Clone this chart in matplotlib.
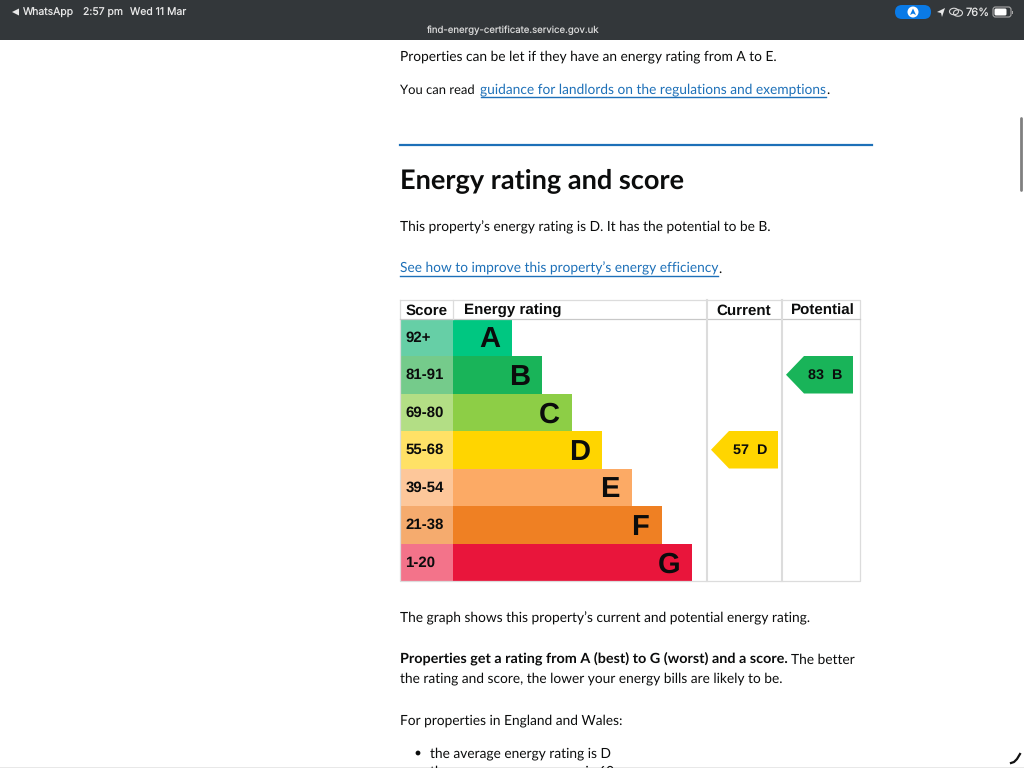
import matplotlib
matplotlib.use('Agg')
import matplotlib.pyplot as plt
from matplotlib.patches import Rectangle, Polygon, FancyBboxPatch, Ellipse, Circle

plt.rcParams['text.hinting'] = 'no_hinting'

# Chart values
scores = ['92+', '81-91', '69-80', '55-68', '39-54', '21-38', '1-20']
bands = ['A', 'B', 'C', 'D', 'E', 'F', 'G']
band_lengths = [59, 89, 119, 149, 179, 209, 239]
band_colors = ['#00c781', '#19b459', '#8dce46', '#ffd500', '#fcaa65', '#ef8023', '#e9153b']
score_colors = ['#66cfa6', '#75cb8b', '#b3de85', '#ffe166', '#fdc79a', '#f5ab6e', '#f3738a']
current_value, current_band = 57, 'D'
potential_value, potential_band = 83, 'B'

BODY = 'Lato'
CHART = 'Liberation Sans'
INK = '#0b0c0c'
LINK = '#1d70b8'
GRID = '#dcdcdc'

fig = plt.figure(figsize=(10.24, 7.68), dpi=100, facecolor='white')
ax = fig.add_axes([0, 0, 1, 1])
ax.set_xlim(0, 1024)
ax.set_ylim(768, 0)
ax.axis('off')


def body(x, y, s, size=9.95, weight='normal', color=INK, **kw):
    return ax.text(x, y + 4.5, s, fontsize=size, fontweight=weight, color=color,
                   family=BODY, va='baseline', ha='left', **kw)


def text_width(t):
    return t.get_window_extent(fig.canvas.get_renderer()).width


def link(x, y, s):
    t = body(x, y, s, color=LINK)
    w = text_width(t)
    ax.plot([x, x + w], [y + 7.5, y + 7.5], color=LINK, lw=1)
    return w


# browser bar
ax.add_patch(Rectangle((0, 0), 1024, 40, color='#33373a', lw=0))
ax.add_patch(Polygon([[12, 12], [19, 8.5], [19, 15.5]], color='#e8e8e8', lw=0))
for x, s in [(23, 'WhatsApp'), (83, '2:57 pm'), (130, 'Wed 11 Mar')]:
    ax.text(x, 16, s, color='#e8e8e8', fontsize=7.5, family='Inter', va='baseline')
ax.text(512, 33, 'find-energy-certificate.service.gov.uk', color='#d8d8d8',
        fontsize=6.9, family='Inter', va='baseline', ha='center')
ax.add_patch(FancyBboxPatch((895, 5), 36, 14, boxstyle='round,pad=0,rounding_size=7',
                            color='#0a7ae6', lw=0))
ax.add_patch(Circle((913, 12), 5.5, color='white', lw=0))
ax.add_patch(Polygon([[913, 8.5], [916, 15], [913, 13.5], [910, 15]], color='#0a7ae6', lw=0))
ax.add_patch(Polygon([[945, 8], [937, 12], [941, 13], [942, 17]], color='#e8e8e8', lw=0))
ax.add_patch(Ellipse((954, 11.5), 9, 6.5, fill=False, ec='#d8d8d8', lw=0.8))
ax.add_patch(Ellipse((958, 13), 9, 6.5, fill=False, ec='#d8d8d8', lw=0.8))
ax.text(966, 16, '76%', color='#e8e8e8', fontsize=8, family='Inter', va='baseline')
ax.add_patch(FancyBboxPatch((993, 7), 18, 10, boxstyle='round,pad=0,rounding_size=2.5',
                            fc='none', ec='#a8a8a8', lw=0.8))
ax.add_patch(FancyBboxPatch((994.5, 8.5), 12, 7, boxstyle='round,pad=0,rounding_size=1.5',
                            color='white', lw=0))
ax.add_patch(Rectangle((1012, 10.5), 1, 3, color='#a8a8a8', lw=0))

# page text above the chart
body(400, 56, 'Properties can be let if they have an energy rating from A to E.')
body(400, 89, 'You can read', size=9.4)
w2 = link(480.5, 89, 'guidance for landlords on the regulations and exemptions')
body(480.5 + w2, 89, '.')
ax.plot([400, 872], [144.5, 144.5], color=LINK, lw=1.6)
body(400, 183.5, 'Energy rating and score', size=19.5, weight='bold')
body(400, 227, 'This property’s energy rating is D. It has the potential to be B.')
w3 = link(400, 268, 'See how to improve this property’s energy efficiency')
body(400 + w3, 268, '.')

# chart frame
top, head, row_h = 300, 318.5, 37.5
bottom = head + row_h * len(bands)
left, score_right, cur_left, pot_left, right = 400, 453, 707, 782, 860
ax.plot([left, right, right, left, left], [top, top, bottom, bottom, top], color=GRID, lw=0.9)
ax.plot([left, right], [head, head], color='#c8c8c8', lw=0.9)
ax.plot([score_right, score_right], [top, head], color=GRID, lw=0.9)
ax.plot([cur_left, cur_left], [top, bottom], color=GRID, lw=1.5)
ax.plot([pot_left, pot_left], [top, bottom], color=GRID, lw=1.5)

for x, s, ha in [(426.5, 'Score', 'center'), (463.5, 'Energy rating', 'left'),
                 (744, 'Current', 'center'), (823, 'Potential', 'center')]:
    ax.text(x, 315, s, fontsize=10.9, fontweight='bold', family=CHART, color=INK,
            ha=ha, va='baseline')

row_y = [head + row_h * i for i in range(len(bands))]
ax.barh(row_y, [score_right - left] * len(scores), left=left, height=row_h, align='edge',
        color=score_colors, lw=0)
ax.barh(row_y, band_lengths, left=score_right, height=row_h, align='edge',
        color=band_colors, lw=0)
for y, score, band, length in zip(row_y, scores, bands, band_lengths):
    ax.text(405.5, y + row_h / 2 + 4.5, score, fontsize=10.8, fontweight='bold', family=CHART,
            color=INK, va='baseline')
    ax.text(score_right + length - 22.5, y + row_h / 2 + 10, band, fontsize=21, fontweight='bold',
            family=CHART, color=INK, ha='center', va='baseline')


def marker(x, value, band):
    i = bands.index(band)
    y0, y1 = row_y[i], row_y[i] + row_h
    ax.add_patch(Polygon([[x, (y0 + y1) / 2], [x + 18, y0], [x + 67, y0], [x + 67, y1], [x + 18, y1]],
                         color=band_colors[i], lw=0))
    ax.text(x + 39, (y0 + y1) / 2, f'{value}  {band}', fontsize=10.4, fontweight='bold',
            family=CHART, color=INK, ha='center', va='center')


marker(711, current_value, current_band)
marker(786, potential_value, potential_band)

# page text below the chart
body(400, 618, 'The graph shows this property’s current and potential energy rating.')
t = body(400, 659, 'Properties get a rating from A (best) to G (worst) and a score.', size=10.4, weight='bold')
body(400 + text_width(t) + 3, 659, 'The better')
body(400, 678, 'the rating and score, the lower your energy bills are likely to be.')
body(400, 720, 'For properties in England and Wales:')
ax.add_patch(Circle((418, 753), 2.4, color=INK, lw=0))
body(430, 753, 'the average energy rating is D')
clipped = body(430, 771, 'the average energy score is 60')
clipped.set_clip_path(Rectangle((0, 0), 1024, 767, transform=ax.transData))
ax.plot([0, 1024], [767.5, 767.5], color='#8a8a8a', lw=1)

# scrollbar and pointer
ax.plot([1020.5, 1020.5], [118, 190], color='#808080', lw=2, solid_capstyle='round')
ax.plot([1011, 1014, 1017, 1020], [763, 762, 759, 754], color='#111111', lw=1.6)

fig.savefig('out.png', dpi=100)
